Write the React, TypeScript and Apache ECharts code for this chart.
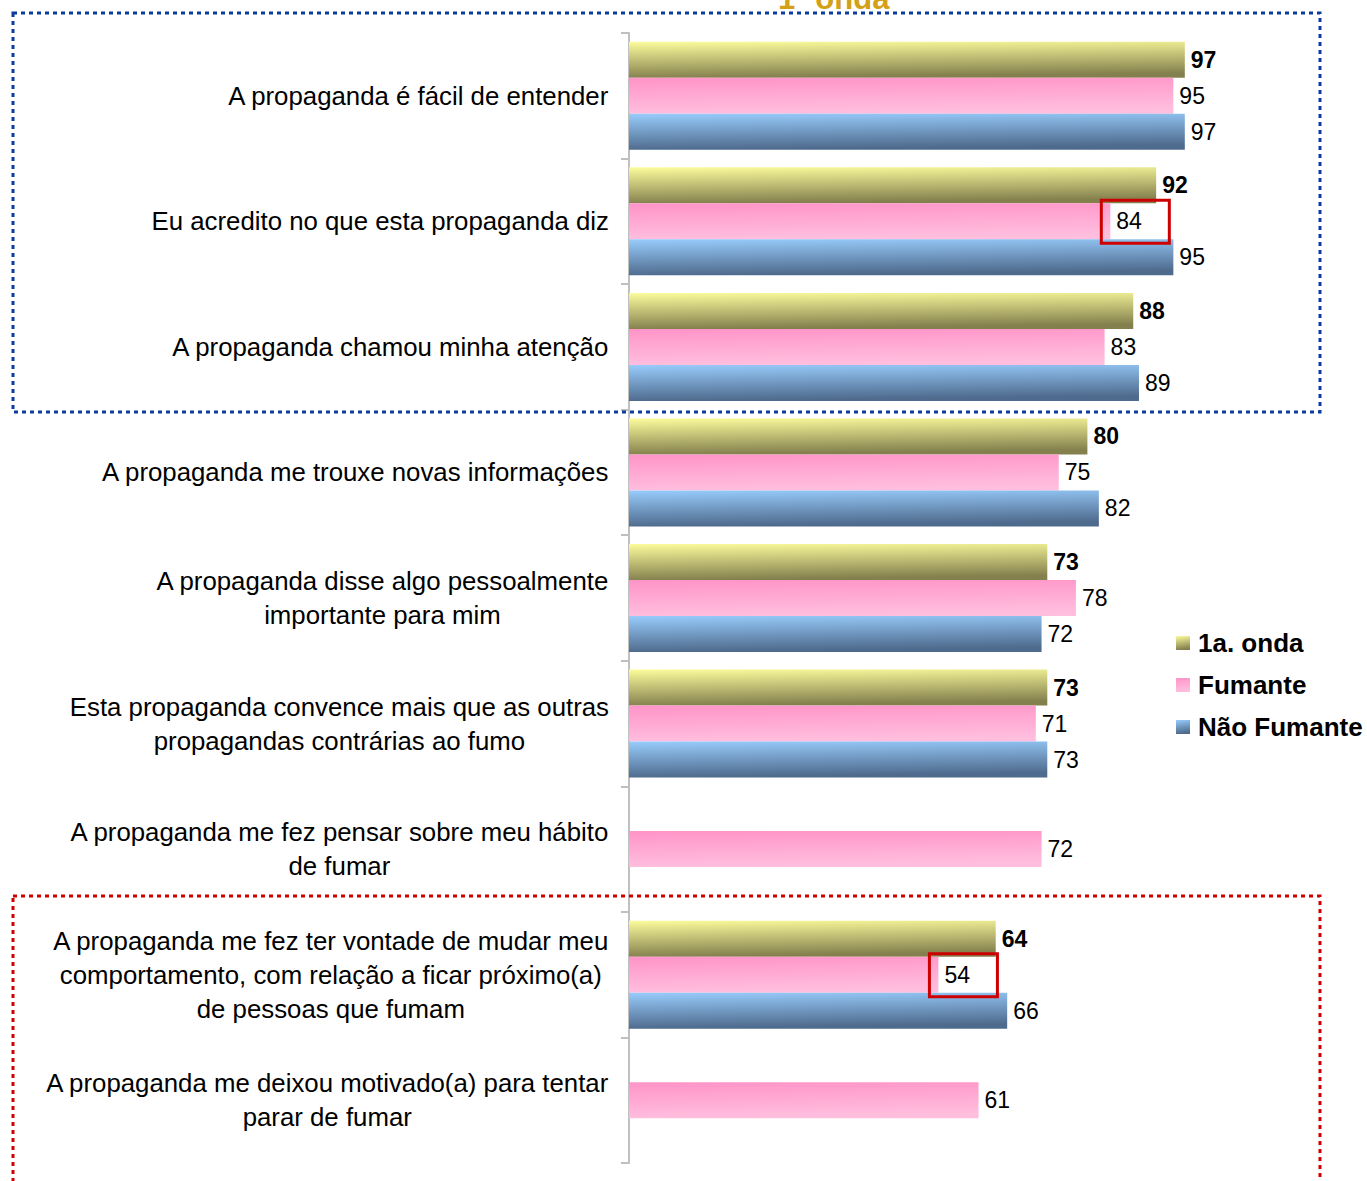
import React, { useEffect, useRef } from "react";
import * as echarts from "echarts";

const categories = [
  "A propaganda é fácil de entender",
  "Eu acredito no que esta propaganda diz",
  "A propaganda chamou minha atenção",
  "A propaganda me trouxe novas informações",
  "A propaganda disse algo pessoalmente\nimportante para mim",
  "Esta propaganda convence mais que as outras\npropagandas contrárias ao fumo",
  "A propaganda me fez pensar sobre meu hábito\nde fumar",
  "A propaganda me fez ter vontade de mudar meu\ncomportamento, com relação a ficar próximo(a)\nde pessoas que fumam",
  "A propaganda me deixou motivado(a) para tentar\nparar de fumar",
];
const seriesNames = ["1a. onda", "Fumante", "Não Fumante"];
const onda = [97, 92, 88, 80, 73, 73, null, 64, null];
const fumante = [95, 84, 83, 75, 78, 71, 72, 54, 61];
const naoFumante = [97, 95, 89, 82, 72, 73, null, 66, null];
const highlights = [
  { cat: 1, value: 84 },
  { cat: 7, value: 54 },
];
const titleText = "1ª onda";

const FONT = "'Liberation Sans', Arial, sans-serif";

const grad = (c1: string, c2: string) =>
  new echarts.graphic.LinearGradient(0, 0, 0.15, 1, [
    { offset: 0, color: c1 },
    { offset: 1, color: c2 },
  ]);

export default function App() {
  const ref = useRef<HTMLDivElement>(null);
  useEffect(() => {
    if (!ref.current) return;
    const chart = echarts.init(ref.current, undefined, { renderer: "svg" });
    const staticGraphics: any[] = [
      {
        type: "text",
        left: 778,
        top: -17,
        z: 10,
        style: {
          text: titleText,
          fill: "#D4A017",
          font: `bold 31px ${FONT}`,
        },
      },
      {
        type: "rect",
        shape: { x: 13, y: 13, width: 1307, height: 399 },
        z: 10,
        style: { fill: "none", stroke: "#0B3C9E", lineWidth: 3, lineDash: [4, 4] },
      },
      {
        type: "rect",
        shape: { x: 13, y: 896, width: 1307, height: 300 },
        z: 10,
        style: { fill: "none", stroke: "#D00000", lineWidth: 3, lineDash: [4, 4] },
      },
    ];
    const mkSeries = (name: string, data: (number | null)[], c1: string, c2: string, bold: boolean) => ({
      name,
      type: "bar",
      data,
      barGap: "0%",
      barCategoryGap: "14%",
      itemStyle: { color: grad(c1, c2) },
      label: {
        show: true,
        position: "right",
        distance: 6,
        color: "#000",
        fontFamily: FONT,
        fontSize: 23,
        fontWeight: bold ? "bold" : "normal",
      },
    });
    chart.setOption({
      animation: false,
      backgroundColor: "#fff",
      grid: { left: 629, top: 33, width: 573, height: 1130, containLabel: false },
      xAxis: {
        type: "value",
        min: 0,
        max: 100,
        show: false,
      },
      yAxis: {
        type: "category",
        inverse: true,
        data: categories,
        axisLine: { show: true, lineStyle: { color: "#C0C0C0", width: 2 } },
        axisTick: { show: true, length: 8, lineStyle: { color: "#C0C0C0", width: 2 } },
        axisLabel: {
          margin: 20,
          align: "right",
          formatter: (v: string) =>
            v
              .split("\n")
              .map((l) => `{c|${l}}`)
              .join("\n"),
          rich: {
            c: {
              align: "center",
              fontSize: 25.8,
              lineHeight: 34,
              color: "#000",
              fontFamily: FONT,
            },
          },
        },
      },
      legend: {
        orient: "vertical",
        left: 1171,
        top: 625,
        itemWidth: 14,
        itemHeight: 14,
        itemGap: 16,
        icon: "rect",
        textStyle: {
          fontFamily: FONT,
          fontSize: 26,
          fontWeight: "bold",
          color: "#000",
          padding: [0, 0, 0, 3],
        },
        data: seriesNames,
      },
      graphic: staticGraphics,
      series: [
        mkSeries(seriesNames[0], onda, "#FCFC9C", "#84804E", true),
        mkSeries(seriesNames[1], fumante, "#FF94C8", "#FFBEDE", false),
        mkSeries(seriesNames[2], naoFumante, "#98CCFC", "#4E6A8C", false),
      ],
    });
    const boxes = highlights.map((h) => {
      const p = chart.convertToPixel({ gridIndex: 0 }, [h.value, h.cat]) as number[];
      return {
        type: "rect",
        z: 20,
        shape: { x: p[0] - 9, y: p[1] - 21, width: 68, height: 43 },
        style: { fill: "none", stroke: "#CC0000", lineWidth: 3 },
      };
    });
    chart.setOption({ graphic: [...staticGraphics, ...boxes] }, { replaceMerge: ["graphic"] });
    return () => chart.dispose();
  }, []);
  return (
    <div
      ref={ref}
      style={{ position: "absolute", left: 0, top: 0, width: 1367, height: 1181 }}
    />
  );
}
